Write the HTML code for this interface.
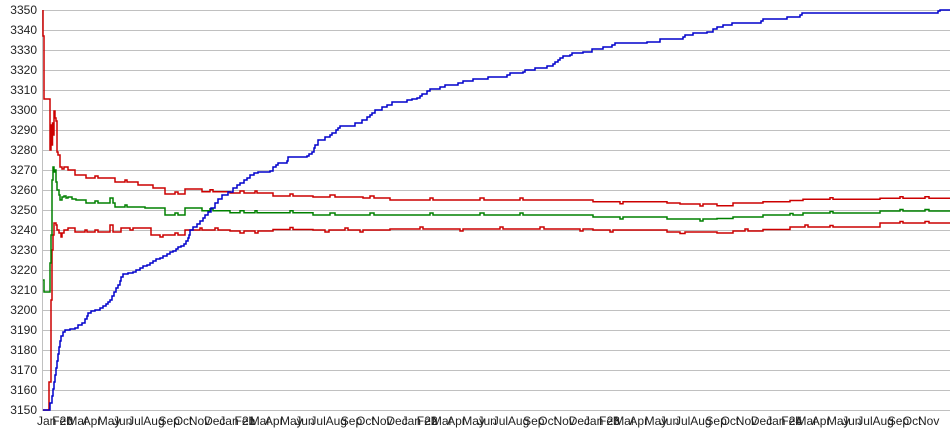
<!DOCTYPE html>
<html>
<head>
<meta charset="utf-8">
<style>
html,body{margin:0;padding:0;background:#fff;}
svg{display:block;}
text{font-family:"Liberation Sans",Arial,sans-serif;font-size:12px;fill:#222;}
</style>
</head>
<body>
<svg width="950" height="435" viewBox="0 0 950 435" xmlns="http://www.w3.org/2000/svg">
<rect width="950" height="435" fill="#fff"/>
<g stroke="#c0c0c0" stroke-width="1">
<line x1="43" y1="10.5" x2="950" y2="10.5"/>
<line x1="43" y1="30.5" x2="950" y2="30.5"/>
<line x1="43" y1="50.5" x2="950" y2="50.5"/>
<line x1="43" y1="70.5" x2="950" y2="70.5"/>
<line x1="43" y1="90.5" x2="950" y2="90.5"/>
<line x1="43" y1="110.5" x2="950" y2="110.5"/>
<line x1="43" y1="130.5" x2="950" y2="130.5"/>
<line x1="43" y1="150.5" x2="950" y2="150.5"/>
<line x1="43" y1="170.5" x2="950" y2="170.5"/>
<line x1="43" y1="190.5" x2="950" y2="190.5"/>
<line x1="43" y1="210.5" x2="950" y2="210.5"/>
<line x1="43" y1="230.5" x2="950" y2="230.5"/>
<line x1="43" y1="250.5" x2="950" y2="250.5"/>
<line x1="43" y1="270.5" x2="950" y2="270.5"/>
<line x1="43" y1="290.5" x2="950" y2="290.5"/>
<line x1="43" y1="310.5" x2="950" y2="310.5"/>
<line x1="43" y1="330.5" x2="950" y2="330.5"/>
<line x1="43" y1="350.5" x2="950" y2="350.5"/>
<line x1="43" y1="370.5" x2="950" y2="370.5"/>
<line x1="43" y1="390.5" x2="950" y2="390.5"/>
<line x1="43" y1="410.5" x2="950" y2="410.5"/>
<line x1="42.5" y1="10" x2="42.5" y2="411"/>
</g>
<g text-anchor="end">
<text x="37" y="14">3350</text>
<text x="37" y="34">3340</text>
<text x="37" y="54">3330</text>
<text x="37" y="74">3320</text>
<text x="37" y="94">3310</text>
<text x="37" y="114">3300</text>
<text x="37" y="134">3290</text>
<text x="37" y="154">3280</text>
<text x="37" y="174">3270</text>
<text x="37" y="194">3260</text>
<text x="37" y="214">3250</text>
<text x="37" y="234">3240</text>
<text x="37" y="254">3230</text>
<text x="37" y="274">3220</text>
<text x="37" y="294">3210</text>
<text x="37" y="314">3200</text>
<text x="37" y="334">3190</text>
<text x="37" y="354">3180</text>
<text x="37" y="374">3170</text>
<text x="37" y="394">3160</text>
<text x="37" y="414">3150</text>
</g>
<g>
<text x="37.0" y="425">Jan 20</text>
<text x="52.2" y="425">Feb</text>
<text x="67.4" y="425">Mar</text>
<text x="82.6" y="425">Apr</text>
<text x="97.8" y="425">May</text>
<text x="113.0" y="425">Jun</text>
<text x="128.1" y="425">Jul</text>
<text x="143.3" y="425">Aug</text>
<text x="158.5" y="425">Sep</text>
<text x="173.7" y="425">Oct</text>
<text x="188.9" y="425">Nov</text>
<text x="204.1" y="425">Dec</text>
<text x="219.3" y="425">Jan 21</text>
<text x="234.5" y="425">Feb</text>
<text x="249.7" y="425">Mar</text>
<text x="264.9" y="425">Apr</text>
<text x="280.0" y="425">May</text>
<text x="295.2" y="425">Jun</text>
<text x="310.4" y="425">Jul</text>
<text x="325.6" y="425">Aug</text>
<text x="340.8" y="425">Sep</text>
<text x="356.0" y="425">Oct</text>
<text x="371.2" y="425">Nov</text>
<text x="386.4" y="425">Dec</text>
<text x="401.6" y="425">Jan 22</text>
<text x="416.8" y="425">Feb</text>
<text x="431.9" y="425">Mar</text>
<text x="447.1" y="425">Apr</text>
<text x="462.3" y="425">May</text>
<text x="477.5" y="425">Jun</text>
<text x="492.7" y="425">Jul</text>
<text x="507.9" y="425">Aug</text>
<text x="523.1" y="425">Sep</text>
<text x="538.3" y="425">Oct</text>
<text x="553.5" y="425">Nov</text>
<text x="568.7" y="425">Dec</text>
<text x="583.9" y="425">Jan 23</text>
<text x="599.0" y="425">Feb</text>
<text x="614.2" y="425">Mar</text>
<text x="629.4" y="425">Apr</text>
<text x="644.6" y="425">May</text>
<text x="659.8" y="425">Jun</text>
<text x="675.0" y="425">Jul</text>
<text x="690.2" y="425">Aug</text>
<text x="705.4" y="425">Sep</text>
<text x="720.6" y="425">Oct</text>
<text x="735.8" y="425">Nov</text>
<text x="750.9" y="425">Dec</text>
<text x="766.1" y="425">Jan 24</text>
<text x="781.3" y="425">Feb</text>
<text x="796.5" y="425">Mar</text>
<text x="811.7" y="425">Apr</text>
<text x="826.9" y="425">May</text>
<text x="842.1" y="425">Jun</text>
<text x="857.3" y="425">Jul</text>
<text x="872.5" y="425">Aug</text>
<text x="887.7" y="425">Sep</text>
<text x="902.8" y="425">Oct</text>
<text x="918.0" y="425">Nov</text>
</g>
<g fill="none" stroke-width="1.5" stroke-linejoin="miter">
<!-- lower red -->
<path stroke="#cc0000" d="M43,410 H49 V382 H51 V300 H52 V250 H53 V235 H54 V223 H56 V225 H57 V230 H59 V233 H61 V237 H62 V233 H64 V230 H68 V228 H75 V232 H85 v-2 h2 v2 H95 v-2 h3 v2 H110 V225 H113 V232 H121 V228 H130 v2 h3 v-2 H151 V235 H160 v2 h3 v-2 H175 v-2 h3 v2 H185 V230 H200 v-2 h2 v2 H215 v-2 h3 v2 H230 V231 H240 v2 h4 v-2 H255 v2 h3 v-2 H273 V229.5 H290 v-2 h3 v2 H313 V230 H325 v2 h4 v-2 H345 v-2 h3 v2 H360 v2 h3 v-2 H390 V229 H420 v-2 h3 v2 H460 v2 h3 v-2 H500 v-2 h3 v2 H540 v-2 h4 v2 H570 H580 v2 h3 v-2 H593 V230 H610 v2 h3 v-2 H667 V232 H680 v1.5 h5 v-1.5 H717 V233 H733 V231 H745 v-2 h3 v2 H763 V229.5 H790 V227 H805 v-2 h3 v2 H830 v-1.5 h3 v1.5 H880 V223 H900 v-1.5 h3 v1.5 H925 v-1.5 h4 v1.5 H950"/>
<!-- green -->
<path stroke="#008000" d="M43,280 H44 V292 H50 V263 H51 V235 H52 V180 H53 V167 H54 V172 H55 V170 H56 V182 H57 V190 H59 V195 H60 V200 H62 V197 H64 V196 H66 V198 H68 V197 H72 V199 H76 V200 H86 V203 H95 v-2 h3 v2 H110 V198 H113 V203 H115 V207 H125 v-2 h2 v2 H145 V208 H165 V215 H175 v-2 h3 v2 H185 V208 H202 V210.7 H210 v-2 h3 v2 H230 V212.7 H240 v-2 h4 v2 H255 v-2 h2 v2 H290 v-2 h3 v2 H313 V215 H330 v-2 h5 v2 H370 v-2 h4 v2 H430 v-2 h3 v2 H480 v-2 h4 v2 H520 v-2 h3 v2 H593 V217 H620 v2 h3 v-2 H667 V219 H700 v2 h3 v-2 H717 V218.5 H733 V217 H763 V215 H790 v-1.5 h3 v1.5 H803 V213 H830 v-1.5 h3 v1.5 H880 V211 H900 v-1.5 h3 v1.5 H925 v-1.5 h4 v1.5 H950"/>
<!-- upper red -->
<path stroke="#cc0000" d="M43,10 V36 H44 V99 H50 V150 H51 V125 H52 V145 H52.5 V123 H53 V135 H54 V111 H55 V118 H56 V121 H57 V152 H58 V155 H60 V167 H62 V169 H64 V167 H68 V170 H75 V175 H86 V178 H95 v-2 h3 v2 H115 V182 H125 v-2 h2 v2 H138 V185 H153 V188 H165 V194 H175 v-2 h3 v2 H185 V189 H202 V191.7 H210 v-2 h3 v2 H230 V193 H240 v-2 h4 v2 H255 v-2 h2 v2 H273 V196 H290 v-2 h3 v2 H313 V197 H330 v-2 h5 v2 H363 V198 H370 v-2 h4 v2 H390 V200 H430 v-2 h3 v2 H480 v-2 h4 v2 H520 v-2 h3 v2 H593 V201.7 H620 v2 h3 v-2 H667 V203 H680 V204 H700 v2 h3 v-2 H717 V205.7 H733 V203 H763 V201.7 H790 V200.5 H803 V199.3 H830 v-1.5 h3 v1.5 H880 V198.3 H900 v-1.5 h3 v1.5 H925 v-1.5 h4 v1.5 H950"/>
<!-- blue -->
<path stroke="#0000cc" d="M43,410 H50 V403 H52 V396 H53 V389 H54 V382 H55 V375 H56 V368 H57 V361 H58 V354 H59 V347 H60 V341 H61 V336 H63 V332 H65 V330 H70 V329 H75 V328 H78 V325 H82 V323 H85 V319 H87 V316 H88 V313 H91 V311 H95 V310 H100 V308 H103 V306 H106 V304 H108 V302 H110 V300 H112 V296 H114 V292 H116 V288 H118 V285 H120 V281 H121 V277 H123 V274 H128 V273 H133 V272 H136 V270 H140 V268 H143 V266 H147 V265 H150 V263 H153 V261 H156 V259 H160 V258 H163 V256 H167 V254 H170 V252 H173 V251 H176 V249 H178 V247 H181 V246 H184 V244 H186 V241 H188 V238 H189 V235 H190 V230 H193 V227 H197 V224 H200 V221 H203 V218 H205 V215 H208 V212 H211 V208 H215 V203 H218 V199 H222 V195 H228 V192 H233 V188 H237 V185 H240 V183 H244 V180 H247 V178 H250 V175 H254 V173 H258 V172 H270 V171 H273 V167 H276 V165 H278 V163 H287 V161 H288 V157 H307 V156 H309 V154 H312 V152 H314 V148 H315 V145 H318 V140 H325 V137 H330 V135 H332 V133 H336 V130 H338 V128 H340 V126 H355 V123 H362 V120 H367 V117 H370 V115 H372 V113 H375 V110 H382 V107 H387 V105 H392 V102 H407 V100 H412 V99 H417 V98 H420 V96 H422 V94 H427 V91 H430 V89 H440 V87 H445 V85 H458 V83 H463 V81 H473 V79 H488 V77 H507 V75 H510 V73 H523 V72 H525 V70 H535 V68 H547 V66 H553 V64 H555 V62 H558 V60 H560 V58 H563 V56 H570 V55 H572 V53 H583 V52 H592 V49 H603 V47 H612 V45 H615 V43 H647 V42 H660 V39 H683 V37 H685 V35 H693 V33 H707 V32 H713 V29 H717 V27 H723 V25 H732 V23 H761 V21 H763 V19 H787 V17 H800 V15 H802 V13 H938 V11 H940 V10 H950"/>
</g>
</svg>
</body>
</html>
